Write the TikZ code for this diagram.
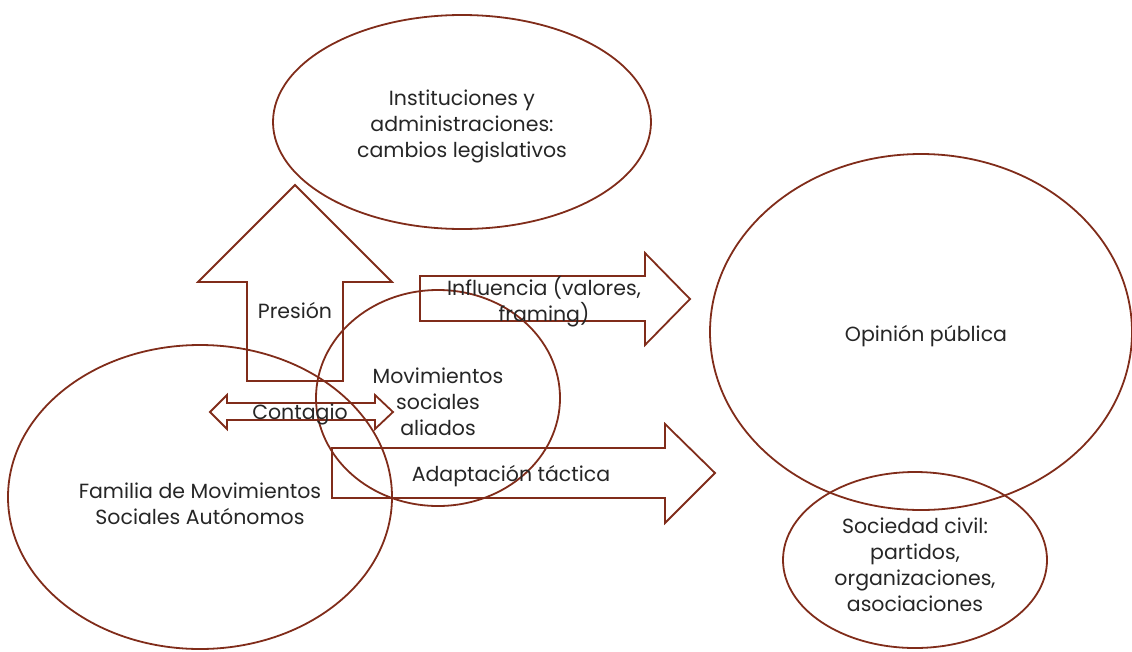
\documentclass[tikz,border=0pt]{standalone}
\usepackage{fontspec}
\setmainfont{Poppins}
\definecolor{edge}{RGB}{128,44,26}
\tikzset{
  bubble/.style={draw=edge, line width=1.8pt},
  blockarrow/.style={draw=edge, line width=1.8pt, line join=miter},
  label/.style={align=center, font=\fontsize{20.5}{26}\selectfont, text=black!85, inner sep=0pt, yshift=-2.5pt}
}
\begin{document}
\begin{tikzpicture}[x=1pt, y=-1pt]
\useasboundingbox (0,0) rectangle (1132,651);

% ellipses
\draw[bubble] (462,122) ellipse [x radius=189, y radius=107];
\draw[bubble] (921,332) ellipse [x radius=211, y radius=178];
\draw[bubble] (915,560) ellipse [x radius=132, y radius=88];
\draw[bubble] (200,497) ellipse [x radius=192, y radius=152];
\draw[bubble] (438,398) ellipse [x radius=122, y radius=108];

% upward arrow
\draw[blockarrow] (295,185) -- (392,282) -- (343,282) -- (343,381)
  -- (247,381) -- (247,282) -- (198,282) -- cycle;
% two-headed arrow
\draw[blockarrow] (210,412) -- (227,395) -- (227,403) -- (375,403) -- (375,395)
  -- (393,412) -- (375,429) -- (375,420) -- (227,420) -- (227,429) -- cycle;
% arrow towards public opinion
\draw[blockarrow] (420,276) -- (645,276) -- (645,253) -- (690,299)
  -- (645,345) -- (645,321) -- (420,321) -- cycle;
% lower right arrow
\draw[blockarrow] (332,448) -- (665,448) -- (665,424) -- (715,473)
  -- (665,523) -- (665,498) -- (332,498) -- cycle;

% texts
\node[label] (inst) at (462,124) {Instituciones y\\administraciones:\\cambios legislativos};
\node[label] (opin) at (926,334) {Opinión pública};
\node[label] (soc) at (915,562) {Sociedad civil:\\partidos,\\organizaciones,\\asociaciones};
\node[label] (fam) at (200,501) {Familia de Movimientos\\Sociales Autónomos};
\node[label] (ali) at (438,399) {Movimientos\\sociales\\aliados};
\node[label] (pres) at (295,308) {Presión};
\node[label] (cont) at (300,412) {Contagio};
\node[label] (infl) at (544,299) {Influencia (valores,\\framing)};
\node[label] (adap) at (511,474) {Adaptación táctica};
\end{tikzpicture}
\end{document}
